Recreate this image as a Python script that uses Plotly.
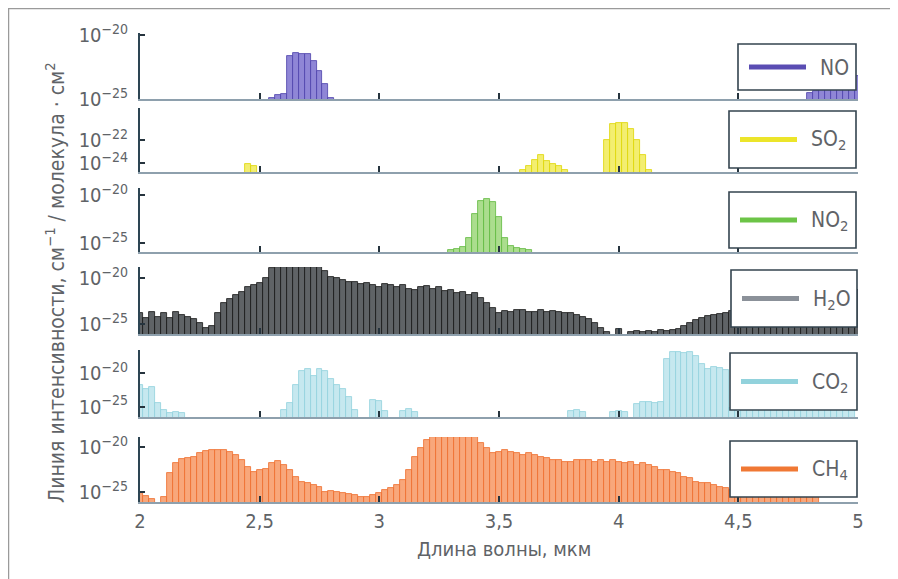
import plotly.graph_objects as go
from plotly.subplots import make_subplots

# ---------------- data (wavelength in µm, log10 of line intensity) ----------------
molecules = ["NO", "SO2", "NO2", "H2O", "CO2", "CH4"]
legend_labels = ["NO", "SO<sub>2</sub>", "NO<sub>2</sub>", "H<sub>2</sub>O", "CO<sub>2</sub>", "CH<sub>4</sub>"]

no_wl = [2.55, 2.575, 2.6, 2.625, 2.65, 2.675, 2.7, 2.725, 2.75, 2.775, 2.8,
         4.8, 4.825, 4.85, 4.875, 4.9, 4.925, 4.95, 4.975, 5.0]
no_logI = [-24.9, -24.7, -24.6, -21.6, -21.4, -21.5, -21.5, -22.0, -22.8, -23.8, -24.9,
           -24.5, -24.4, -24.3, -24.3, -24.3, -24.3, -24.2, -23.8, -23.2]

so2_wl = [2.45, 2.475, 3.6, 3.625, 3.65, 3.675, 3.7, 3.725, 3.75, 3.775,
          3.95, 3.975, 4.0, 4.025, 4.05, 4.075, 4.1, 4.125]
so2_logI = [-24.1, -24.3, -24.6, -24.3, -23.7, -23.3, -23.8, -24.1, -24.3, -24.6,
            -22.0, -20.6, -20.5, -20.5, -21.0, -22.0, -23.3, -24.6]

no2_wl = [3.3, 3.325, 3.35, 3.375, 3.4, 3.425, 3.45, 3.475, 3.5, 3.525, 3.55, 3.575, 3.6, 3.625]
no2_logI = [-25.7, -25.6, -25.4, -24.5, -22.0, -20.6, -20.4, -20.7, -22.3, -24.5, -25.3, -25.5, -25.6, -25.7]

grid_wl = [round(2.0 + 0.025 * i, 3) for i in range(121)]

h2o_logI = [
    -23.8, -24.3, -23.7, -24.2, -23.8, -24.3, -23.7, -24.0, -24.2, -24.5,   # 2.000-2.225
    -24.9, -25.4, -25.2, -23.8, -22.7, -22.3, -21.8, -21.5, -21.0, -20.8,   # 2.250-2.475
    -20.5, -20.0, -18.9, -18.8, -18.8, -18.8, -18.8, -18.8, -18.8, -18.8,   # 2.500-2.725
    -18.8, -19.2, -19.9, -20.0, -20.2, -20.4, -20.4, -20.6, -20.5, -20.8,   # 2.750-2.975
    -21.0, -20.7, -20.8, -21.0, -20.8, -21.2, -21.3, -21.0, -20.9, -21.2,   # 3.000-3.225
    -21.0, -21.4, -21.3, -21.6, -21.5, -21.8, -21.6, -22.2, -22.7, -23.3,   # 3.250-3.475
    -23.8, -23.6, -23.7, -23.5, -23.5, -23.7, -23.7, -23.5, -23.7, -23.6,   # 3.500-3.725
    -23.7, -23.8, -23.8, -24.0, -24.2, -24.5, -24.9, -25.4, -25.9, -26.5,   # 3.750-3.975
    -25.5, -26.5, -25.9, -25.8, -25.9, -25.8, -25.9, -25.7, -25.8, -25.6,   # 4.000-4.225
    -25.5, -25.2, -24.9, -24.6, -24.4, -24.1, -24.0, -23.9, -23.8, -23.6,   # 4.250-4.475
    -23.6, -23.7, -23.6, -23.8, -23.7, -23.9, -23.8, -23.7, -23.9, -23.8,   # 4.500-4.725
    -23.9, -23.8, -24.0, -23.9, -23.8, -24.0, -23.9, -23.8, -24.0, -23.9,   # 4.750-4.975
    -21.3,                                                                  # 5.000
]

co2_wl = [2.0, 2.025, 2.05, 2.075, 2.1, 2.125, 2.15, 2.175,
          2.6, 2.625, 2.65, 2.675, 2.7, 2.725, 2.75, 2.775, 2.8, 2.825, 2.85, 2.875, 2.9,
          2.975, 3.0, 3.025, 3.1, 3.125, 3.15, 3.8, 3.825, 3.85, 3.975, 4.0, 4.025,
          4.075, 4.1, 4.125, 4.15, 4.175, 4.2, 4.225, 4.25, 4.275, 4.3, 4.325, 4.35,
          4.375, 4.4, 4.425, 4.45, 4.475, 4.5, 4.525, 4.55, 4.575, 4.6, 4.625, 4.65,
          4.675, 4.7, 4.725, 4.75, 4.775, 4.8, 4.825, 4.85, 4.875, 4.9, 4.925, 4.95, 4.975]
co2_logI = [-21.7, -22.4, -22.0, -24.5, -25.5, -25.9, -25.8, -25.9,
            -25.5, -24.4, -21.7, -19.7, -19.4, -20.5, -19.4, -19.7, -20.9, -21.7, -22.4, -23.5, -25.5,
            -24.0, -24.2, -25.6, -25.6, -25.3, -25.8, -25.6, -25.5, -25.7, -25.8, -25.6, -25.8,
            -24.6, -24.3, -24.3, -24.4, -24.3, -18.0, -16.9, -16.9, -17.1, -16.9, -17.5, -18.6,
            -19.4, -19.1, -19.2, -19.5, -25.2, -25.2, -25.2, -25.2, -25.2, -25.2, -25.2, -25.2,
            -25.2, -25.2, -25.2, -25.2, -25.2, -25.2, -25.2, -25.2, -25.2, -25.2, -25.2, -25.2, -25.2]

ch4_logI = [
    -25.1, -25.4, -25.8, -26.5, -25.6, -22.9, -21.8, -21.3, -21.2, -21.1,   # 2.000-2.225
    -20.7, -20.4, -20.3, -20.3, -20.3, -20.6, -20.9, -21.4, -22.2, -22.8,   # 2.250-2.475
    -22.6, -22.4, -21.8, -21.6, -22.0, -22.6, -23.3, -23.9, -24.0, -24.2,   # 2.500-2.725
    -24.4, -25.0, -24.9, -25.0, -25.1, -25.2, -25.3, -25.6, -25.6, -25.3,   # 2.750-2.975
    -25.1, -24.8, -24.6, -24.2, -23.7, -22.6, -21.1, -20.1, -19.2, -18.9,   # 3.000-3.225
    -18.9, -18.9, -18.9, -18.9, -18.9, -18.9, -18.9, -19.6, -20.1, -20.7,   # 3.250-3.475
    -20.6, -20.3, -20.6, -20.7, -20.9, -20.7, -20.9, -21.1, -21.2, -21.4,   # 3.500-3.725
    -21.5, -21.7, -21.7, -21.5, -21.5, -21.4, -21.7, -21.4, -21.7, -21.4,   # 3.750-3.975
    -21.7, -21.8, -21.7, -22.0, -21.8, -22.0, -22.2, -22.6, -22.6, -22.8,   # 4.000-4.225
    -22.9, -23.3, -23.4, -23.9, -24.0, -24.0, -24.2, -24.4, -24.6, -24.8,   # 4.250-4.475
    -25.0, -25.2, -25.3, -25.4, -25.3, -25.4, -25.3, -25.4, -25.5, -25.4,   # 4.500-4.725
    -25.5, -25.4, -25.5, -25.6, -26.5, -26.5, -26.5, -26.5, -26.5, -26.5,   # 4.750-4.975
    -26.5,                                                                  # 5.000
]

x_tick_vals = [2, 2.5, 3, 3.5, 4, 4.5, 5]
x_tick_text = ["2", "2,5", "3", "3,5", "4", "4,5", "5"]

series_wl = [no_wl, so2_wl, no2_wl, grid_wl, co2_wl, grid_wl]
series_logI = [no_logI, so2_logI, no2_logI, h2o_logI, co2_logI, ch4_logI]

# ---------------- styling ----------------
FONT = "DejaVu Sans Condensed, Liberation Sans Narrow, Roboto, sans-serif"
TXT = "#606367"
fills = ["#8f86d6", "#f3ee70", "#abdd8e", "#5f6366", "#c6e8ef", "#f8a77b"]
edges = ["#4b40aa", "#ddd400", "#5db83c", "#151515", "#8fd0dc", "#ee6b2b"]
legend_line_colors = ["#5a4db3", "#ece52a", "#6cc447", "#8b9199", "#92d2dc", "#f07834"]

# page-pixel geometry (the page body adds an 8 px offset to the figure)
OFF = 8
W, H = 898 - OFF, 579 - OFF
L, R, T, B = 140, 858, 33, 502  # plot area in page pixels
panel_px = [(33, 99), (108, 172), (188, 252), (267, 334), (350, 417), (437, 502)]
y_ranges = [(-25.0, -19.84), (-24.78, -19.2), (-25.94, -19.27), (-26.09, -18.8), (-26.5, -16.6), (-26.1, -18.9)]
y_ticks = [(-20, -25), (-22, -24), (-20, -25), (-20, -25), (-20, -25), (-20, -25)]
legend_px = [(738, 44, 856, 90), (729, 111, 856, 168), (729, 192, 856, 248),
             (731, 270, 857, 327), (730, 353, 857, 410), (730, 441, 857, 497)]


def px2x(px):
    return (px - L) / (R - L)


def px2y(py):
    return (B - py) / (B - T)


fig = make_subplots(rows=6, cols=1, shared_xaxes=True, vertical_spacing=0.01)

for i, (wl, lg) in enumerate(zip(series_wl, series_logI)):
    fig.add_trace(go.Bar(
        x=wl, y=[10 ** v for v in lg], width=0.025, name=molecules[i],
        marker=dict(color=fills[i], line=dict(color=edges[i], width=0.8)),
        showlegend=False, hoverinfo="skip"), row=i + 1, col=1)

for i in range(6):
    top, bot = panel_px[i]
    n = "" if i == 0 else str(i + 1)
    t1, t2 = y_ticks[i]
    fig.layout["yaxis" + n].update(
        type="log", range=list(y_ranges[i]), domain=[px2y(bot), px2y(top)],
        tickvals=[10.0 ** t1, 10.0 ** t2],
        ticktext=["10<sup>\u2212%d</sup>" % (-t1), "10<sup>\u2212%d</sup>" % (-t2)],
        ticks="inside", ticklen=5, tickwidth=2, tickcolor="#26343e",
        showline=True, linecolor="#2d4553", linewidth=1.8,
        showgrid=False, zeroline=False, ticklabelstandoff=6,
        tickfont=dict(family=FONT, size=20, color=TXT))
    fig.layout["xaxis" + n].update(
        range=[2, 5], tickvals=x_tick_vals, ticktext=x_tick_text,
        ticks="inside", ticklen=6, tickwidth=2, tickcolor="#26343e",
        showline=True, linecolor="#8ea0ad", linewidth=1.5,
        showgrid=False, zeroline=False,
        showticklabels=(i == 5),
        tickfont=dict(family=FONT, size=20, color=TXT))

shapes = []
annotations = []
# outer frame (left and top edges only)
shapes.append(dict(type="path", xref="paper", yref="paper",
                   path="M %f %f L %f %f L %f %f" % (px2x(8.5), px2y(600), px2x(8.5), px2y(8.5), px2x(920), px2y(8.5)),
                   line=dict(color="#9a9a9a", width=1.5)))

for i in range(6):
    x0, y0, x1, y1 = legend_px[i]
    shapes.append(dict(type="rect", xref="paper", yref="paper", layer="above",
                       x0=px2x(x0), x1=px2x(x1), y0=px2y(y1), y1=px2y(y0),
                       fillcolor="white", line=dict(color="#34444f", width=1.6)))
    ly = (y0 + y1) / 2
    shapes.append(dict(type="line", xref="paper", yref="paper", layer="above",
                       x0=px2x(x0 + 11), x1=px2x(x0 + 68), y0=px2y(ly), y1=px2y(ly),
                       line=dict(color=legend_line_colors[i], width=5)))
    annotations.append(dict(xref="paper", yref="paper", x=px2x(x0 + 80), y=px2y(ly + 1),
                            xanchor="left", yanchor="middle", showarrow=False,
                            text=legend_labels[i], font=dict(family=FONT, size=21, color=TXT)))

annotations.append(dict(xref="paper", yref="paper", x=px2x(55), y=px2y(283),
                        text="Линия интенсивности, см<sup>\u22121</sup> / молекула · см<sup>2</sup>",
                        textangle=-90, showarrow=False, xanchor="center", yanchor="middle",
                        font=dict(family=FONT, size=21, color=TXT)))
annotations.append(dict(xref="paper", yref="paper", x=px2x(504), y=px2y(549),
                        text="Длина волны, мкм", showarrow=False, xanchor="center", yanchor="middle",
                        font=dict(family=FONT, size=20, color=TXT)))

fig.update_layout(
    width=W, height=H, margin=dict(l=L - OFF, r=898 - R, t=T - OFF, b=579 - B),
    paper_bgcolor="white", plot_bgcolor="white",
    bargap=0, barmode="overlay", showlegend=False,
    shapes=shapes, annotations=annotations,
    font=dict(family=FONT, color=TXT),
)

fig.write_html("out.html")
